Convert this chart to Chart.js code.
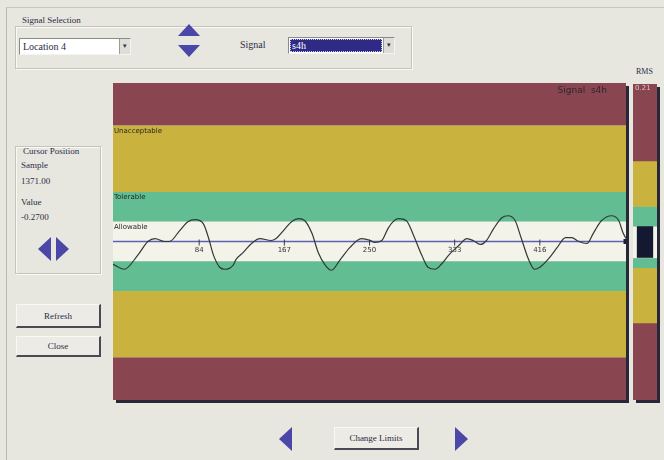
<!DOCTYPE html>
<html>
<head>
<meta charset="utf-8">
<script src="https://cdn.jsdelivr.net/npm/chart.js@4.4.1/dist/chart.umd.min.js"></script>
<style>
body{margin:0;width:664px;height:460px;background:#e8e7df;font-family:"Liberation Serif",serif;color:#2a2c48;position:relative;overflow:hidden}
.a{position:absolute}
.frame{left:6px;top:7px;right:0;bottom:0;border-left:1px solid #b9b9b2;border-top:1px solid #c8c8c0}
.group{border:1px solid #c4c4bc;box-shadow:1px 1px 0 #fafaf4 inset,1px 1px 0 #fafaf4}
.legend{background:#e8e7df;padding:0 2px;font-size:9px}
.drop{background:#fff;border:1px solid #8a8a86;border-right-color:#f4f4f0;border-bottom-color:#f4f4f0;height:17px;box-sizing:border-box;font-size:10px;line-height:15px;padding-left:3px}
.arrow{position:absolute;right:0;top:0;width:10px;height:15px;background:#deded8;border-left:1px solid #9a9a96;font-size:7px;line-height:15px;text-align:center;color:#333}
.up{width:0;height:0;border-left:11px solid transparent;border-right:11px solid transparent;border-bottom:12px solid #4a47a8}
.down{width:0;height:0;border-left:11px solid transparent;border-right:11px solid transparent;border-top:12px solid #4a47a8}
.left{width:0;height:0;border-top:12px solid transparent;border-bottom:12px solid transparent;border-right:13px solid #4a47a8}
.right{width:0;height:0;border-top:12px solid transparent;border-bottom:12px solid transparent;border-left:13px solid #4a47a8}
.btn{background:#ecebe5;border:1px solid #f8f8f4;border-right:2px solid #4a4a56;border-bottom:2px solid #4a4a56;box-sizing:border-box;font-size:9px;text-align:center}
.txt{font-size:9px;white-space:nowrap}
.plot{box-shadow:3px 3px 0 #262838}
</style>
</head>
<body>
<div class="a frame"></div>

<div class="a group" style="left:15px;top:26px;width:395px;height:41px"></div>
<div class="a legend" style="left:20px;top:15px">Signal Selection</div>
<div class="a drop" style="left:19px;top:38px;width:112px">Location 4<div class="arrow">&#9662;</div></div>
<div class="a up" style="left:178px;top:24px"></div>
<div class="a down" style="left:178px;top:45px"></div>
<div class="a txt" style="left:240px;top:39px;font-size:10px">Signal</div>
<div class="a drop" style="left:288px;top:37px;width:107px;padding:1px">
  <div style="height:13px;width:92px;background:#2e2a86;outline:1px dotted #c8c8e8;outline-offset:-1px;color:#fff;font-size:10px;line-height:13px;padding-left:2px;box-sizing:border-box">s4h</div>
  <div class="arrow">&#9662;</div>
</div>

<div class="a group" style="left:15px;top:146px;width:84px;height:126px"></div>
<div class="a txt" style="left:23px;top:146px">Cursor Position</div>
<div class="a txt" style="left:21px;top:160px">Sample</div>
<div class="a txt" style="left:21px;top:176px">1371.00</div>
<div class="a txt" style="left:21px;top:197px">Value</div>
<div class="a txt" style="left:21px;top:212px">-0.2700</div>
<div class="a left" style="left:38px;top:237px"></div>
<div class="a right" style="left:56px;top:237px"></div>

<div class="a btn" style="left:16px;top:304px;width:85px;height:24px;line-height:22px">Refresh</div>
<div class="a btn" style="left:16px;top:336px;width:85px;height:21px;line-height:19px">Close</div>

<div class="a plot" style="left:113px;top:83px;width:513px;height:317px"><canvas id="signalChart"></canvas></div>
<div class="a txt" style="left:636px;top:67px;font-size:8px">RMS</div>
<div class="a plot" style="left:633px;top:84px;width:24px;height:316px"><canvas id="rmsChart"></canvas></div>

<div class="a left" style="left:279px;top:427px"></div>
<div class="a btn" style="left:334px;top:427px;width:85px;height:23px;line-height:21px">Change Limits</div>
<div class="a right" style="left:455px;top:427px"></div>

<script>
// signal samples
const sampleIdx = [0, 11, 24, 34, 41, 50, 55, 65, 73, 80, 88, 93, 98, 104, 109, 117, 120, 127, 135, 143,
  154, 159, 167, 174, 181, 187, 194, 200, 207, 213, 221, 231, 242, 251, 255, 262, 268, 273, 278, 286, 293, 301,
  307, 314, 320, 327, 337, 345, 351, 358, 364, 371, 379, 385, 392, 398, 405, 411, 416, 424, 433, 441,
  447, 454, 462, 468, 472, 476, 486, 493, 497, 500];
const signalValues = [-0.23, -0.28, -0.14, 0, 0.03, 0, 0, 0.11, 0.2, 0.22, 0.18, 0.04, -0.14, -0.26, -0.28, -0.24, -0.18, -0.11, -0.02, 0.03,
  0.01, 0.03, 0.12, 0.2, 0.23, 0.21, 0.08, -0.11, -0.24, -0.29, -0.19, -0.06, 0.03, 0.01, -0.01, 0.01, 0.13, 0.2, 0.23, 0.21, 0.06, -0.14,
  -0.26, -0.28, -0.23, -0.14, -0.04, 0.03, 0.01, -0.03, 0.01, 0.13, 0.24, 0.26, 0.21, 0.03, -0.18, -0.28, -0.26, -0.18, -0.06, 0.04,
  0.04, 0, -0.02, 0.08, 0.15, 0.21, 0.26, 0.21, 0.09, 0.03];

const sampleTicks = [84, 167, 250, 333, 416];
const sampleRange = [0, 500];
const valueRange = [-1.6, 1.6];

// limit zones, top to bottom
const zoneEdges = [1.6, 1.17, 0.5, 0.2, -0.2, -0.5, -1.17, -1.6];
const zoneNames = ['Unacceptable', 'Tolerable', 'Allowable'];
const zoneNameAt = [1.17, 0.5, 0.2];

const rmsEdges = [1.6, 0.82, 0.36, 0.16, -0.16, -0.26, -0.82, -1.6];
const rmsBar = [-0.16, 0.16];
const rmsText = '0.21';
const signalName = 'Signal  s4h';

const maroon = '#8a4650', yellow = '#c9b23e', green = '#62bd93', white = '#f3f3ea';
const zoneColors = [maroon, yellow, green, white, green, yellow, maroon];

const zonePlugin = {
    id: 'zones',
    beforeDatasetsDraw(chart) {
        const { ctx, chartArea: a, scales: { y } } = chart;
        for (let i = 0; i < zoneEdges.length - 1; i++) {
            const top = y.getPixelForValue(zoneEdges[i]);
            const bot = y.getPixelForValue(zoneEdges[i + 1]);
            ctx.fillStyle = zoneColors[i];
            ctx.fillRect(a.left, top, a.right - a.left, bot - top);
        }
        ctx.save();
        ctx.font = '7px "DejaVu Sans"';
        ctx.fillStyle = '#262626';
        ctx.textBaseline = 'top';
        zoneNames.forEach((n, i) => ctx.fillText(n, a.left + 1, y.getPixelForValue(zoneNameAt[i]) + 2));
        ctx.font = '9px "DejaVu Sans"';
        ctx.fillStyle = '#2e2630';
        ctx.textAlign = 'right';
        ctx.fillText(signalName, a.right - 19, a.top + 3);
        ctx.restore();
    },
    afterDatasetsDraw(chart) {
        const { ctx, scales: { x, y } } = chart;
        const y0 = y.getPixelForValue(0);
        ctx.save();
        ctx.strokeStyle = '#3a3a50';
        ctx.fillStyle = '#333';
        ctx.font = '7px "DejaVu Sans"';
        ctx.textAlign = 'center';
        ctx.textBaseline = 'top';
        sampleTicks.forEach(t => {
            const px = x.getPixelForValue(t);
            ctx.beginPath();
            ctx.moveTo(px, y0 - 2);
            ctx.lineTo(px, y0 + 4);
            ctx.stroke();
            ctx.fillText(String(t), px, y0 + 5);
        });
        ctx.restore();
    }
};

new Chart(document.getElementById('signalChart'), {
    type: 'line',
    data: {
        datasets: [{
            data: sampleIdx.map((s, i) => ({ x: s, y: signalValues[i] })),
            borderColor: '#2f3a34',
            borderWidth: 1.2,
            pointRadius: 0,
            cubicInterpolationMode: 'monotone'
        }, {
            data: [{ x: sampleRange[0], y: 0 }, { x: sampleRange[1], y: 0 }],
            borderColor: '#5f5fb4',
            borderWidth: 1.5,
            pointRadius: [0, 3.5],
            pointStyle: 'rect',
            pointBackgroundColor: '#1e2030',
            pointBorderWidth: 0
        }]
    },
    options: {
        responsive: true,
        maintainAspectRatio: false,
        animation: false,
        layout: { padding: 0, autoPadding: false },
        plugins: { legend: { display: false }, tooltip: { enabled: false } },
        scales: {
            x: { type: 'linear', min: sampleRange[0], max: sampleRange[1], display: false },
            y: { min: valueRange[0], max: valueRange[1], display: false }
        }
    },
    plugins: [zonePlugin]
});

const rmsZones = zoneColors.map((c, i) => ({
    data: [[rmsEdges[i + 1], rmsEdges[i]]],
    backgroundColor: c,
    barPercentage: 1,
    categoryPercentage: 1,
    grouped: false
}));

new Chart(document.getElementById('rmsChart'), {
    type: 'bar',
    data: {
        labels: ['RMS'],
        datasets: [{
            data: [rmsBar],
            backgroundColor: '#141830',
            barPercentage: 0.68,
            categoryPercentage: 1,
            grouped: false
        }, ...rmsZones]
    },
    options: {
        responsive: true,
        maintainAspectRatio: false,
        animation: false,
        layout: { padding: 0, autoPadding: false },
        plugins: { legend: { display: false }, tooltip: { enabled: false } },
        scales: {
            x: { display: false },
            y: { min: valueRange[0], max: valueRange[1], display: false }
        }
    },
    plugins: [{
        id: 'rmsLabel',
        afterDraw(chart) {
            const { ctx, chartArea: a } = chart;
            ctx.save();
            ctx.font = '7px "DejaVu Sans"';
            ctx.fillStyle = '#d9c4c4';
            ctx.textBaseline = 'top';
            ctx.fillText(rmsText, a.left + 2, a.top + 1);
            ctx.restore();
        }
    }]
});
</script>
</body>
</html>
